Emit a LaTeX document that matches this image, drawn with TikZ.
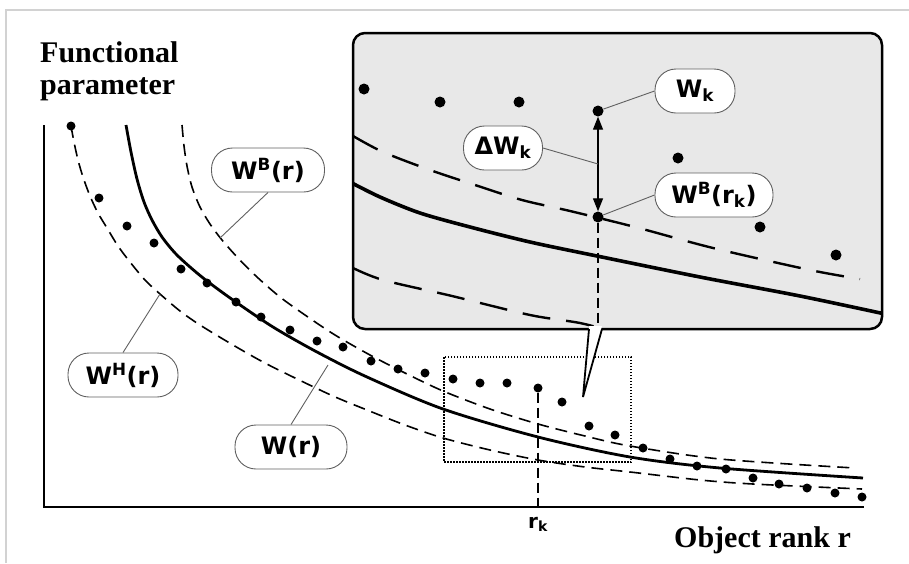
\documentclass[tikz,border=0pt]{standalone}
\usepackage{fontspec}
\setmainfont{Liberation Serif}
\newfontfamily\tagfont{DejaVu Sans}
\usetikzlibrary{positioning,arrows.meta}
\definecolor{insetgray}{RGB}{232,232,232}
\definecolor{leadgray}{RGB}{96,96,96}

\begin{document}
\begin{tikzpicture}[x=1pt,y=-1pt,
    dot/.style={circle,fill,inner sep=0pt,minimum size=9pt},
    bigdot/.style={circle,fill,inner sep=0pt,minimum size=11pt},
    tag/.style={draw=leadgray,line width=0.9pt,fill=white,rounded corners=21pt,
        minimum height=44pt,inner xsep=4pt,font=\tagfont\bfseries\fontsize{24}{26}\selectfont},
    leader/.style={draw=leadgray,line width=0.9pt},
    bound/.style={line width=1.6pt,dash pattern=on 12pt off 7pt},
    bigbound/.style={line width=2.4pt,dash pattern=on 28pt off 16pt},
    guide/.style={line width=1.2pt,dash pattern=on 10pt off 5pt}]
    \useasboundingbox (0,0) rectangle (909,563);
    \draw[gray!35,line width=1.5pt] (6,563) -- (6,10) -- (909,10);

    % axes and titles
    \draw[line width=2.8pt] (44,125) -- (44,507) -- (864,507);
    \node[anchor=north west,align=left,inner sep=0pt,font=\bfseries\fontsize{30}{32}\selectfont]
        (ytitle) at (40,41) {Functional\\parameter};
    \node[anchor=base east,inner sep=0pt,font=\bfseries\fontsize{30}{32}\selectfont]
        (xtitle) at (851,547) {Object rank r};

    % main curves
    \draw[bound] plot[smooth] coordinates {(182,125) (184,146) (187,166) (192,187) (200,207)
        (210,224) (222,240) (238,258) (257,277) (280,297) (305,315) (335,335) (370,355)
        (405,373) (443,391) (490,409) (538,424) (585,436) (630,446) (720,459) (855,468)};
    \draw[line width=2.8pt] plot[smooth] coordinates {(126,125) (131,152) (137,179) (144,202)
        (152,220) (162,237) (175,253) (190,267) (207,281) (233,300) (273,327) (317,352)
        (367,377) (443,409) (538,437) (630,457) (720,468) (863,478)};
    \draw[bound] plot[smooth] coordinates {(71,126) (74,142) (78,160) (83,177) (90,196)
        (98,213) (107,228) (118,246) (130,262) (145,280) (160,294) (180,311) (200,325)
        (233,345) (263,362) (293,377) (333,396) (367,410) (405,425) (443,438) (490,450)
        (538,460) (585,467) (630,472) (700,480) (753,484) (862,489)};

    \foreach \x/\y in {71/126,99/198,127/226,154/243,181/269,207/283,236/302,261/317,
        290/330,317/341,343/347,371/361,398/369,425/373,453/379,480/383,507/383,538/388,
        562/402,589/426,615/435,643/448,670/459,697/466,726/469,753/478,779/484,807/488,
        835/493,862/497}
        \node[dot] (d\x) at (\x,\y) {};

    % r_k
    \coordinate (rktick) at (538,507);
    \draw[guide] (d538) -- (rktick);
    \node[below=10pt of rktick,inner sep=0pt,font=\tagfont\bfseries\fontsize{20}{22}\selectfont]
        (rk) {r\textsubscript{k}};
    \draw[line width=1.3pt,dash pattern=on 1.5pt off 1.5pt] (444,357) rectangle (631,462);

    % labels of the curves
    \coordinate (wbrfoot) at (220,238);
    \coordinate (whrfoot) at (160,294);
    \coordinate (wrfoot) at (328,365);
    \node[tag,minimum width=113pt] (wbr) at (268,170) {W\textsuperscript{B}(r)};
    \node[tag,minimum width=110pt] (whr) at (123,375) {W\textsuperscript{H}(r)};
    \node[tag,minimum width=112pt] (wr) at (291,447) {W(r)};
    \draw[leader] (wbr.south) -- (wbrfoot);
    \draw[leader] (whr.north) -- (whrfoot);
    \draw[leader] (wr.north) -- (wrfoot);

    % inset
    \draw[line width=2.5pt,fill=insetgray,rounded corners=12pt] (353,33) rectangle (882,329);
    \begin{scope}
        \clip[rounded corners=12pt] (353,33) rectangle (882,329);
        \draw[bigbound] plot[smooth] coordinates {(353,136) (383,152) (430,170) (475,185)
            (522,200) (570,211) (635,227) (713,248) (810,270) (860,279)};
        \draw[line width=3.6pt] plot[smooth] coordinates {(350,182) (380,197) (420,213)
            (470,227) (530,242) (597,256) (700,277) (800,296) (885,314)};
        \draw[bigbound] plot[smooth] coordinates {(353,268) (383,280) (452,296) (530,315)
            (580,323) (610,331)};
    \end{scope}
    \foreach \x/\y in {364/89,440/102,519/102,678/158,760/227,836/255}
        \node[bigdot] (i\x) at (\x,\y) {};
    \node[bigdot] (wkdot) at (598,111) {};
    \node[bigdot] (wbdot) at (598,217) {};
    \coordinate (tailtop) at (598,329);
    \coordinate (dwkfoot) at (598,164);
    \draw[guide] (wbdot) -- (tailtop);
    \draw[line width=1.3pt,{Triangle[length=13pt,width=10pt]}-{Triangle[length=13pt,width=10pt]}]
        (wkdot) -- (wbdot);
    \node[tag,minimum width=80pt] (wk) at (695,91) {W\textsubscript{k}};
    \node[tag,minimum width=79pt] (dwk) at (503,148) {ΔW\textsubscript{k}};
    \node[tag,minimum width=118pt] (wbrk) at (714,195) {W\textsuperscript{B}(r\textsubscript{k})};
    \draw[leader] (wk.west) -- (wkdot);
    \draw[leader] (dwk.east) -- (dwkfoot);
    \draw[leader] (wbrk.west) -- (wbdot);

    % tail of the inset
    \fill[white] (589,326) -- (583,397) -- (602,326) -- cycle;
    \draw[line width=1.8pt] (589,329) -- (583,397) -- (602,329);
\end{tikzpicture}
\end{document}
